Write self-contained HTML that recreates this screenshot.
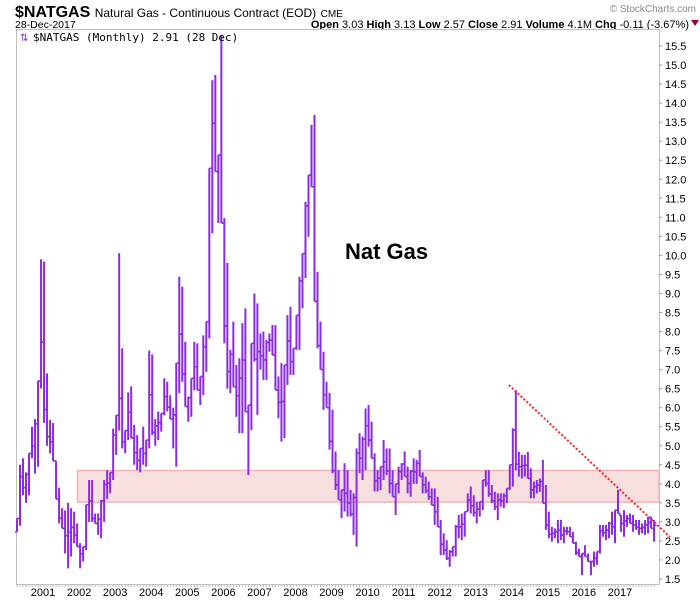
<!DOCTYPE html>
<html><head><meta charset="utf-8"><style>
body{margin:0;background:#fff;width:700px;height:600px;overflow:hidden;font-family:"Liberation Sans",sans-serif}
svg{display:block}
</style></head><body>
<svg id="chart" width="700" height="600">
<text x="15" y="17" font-size="16" font-weight="bold" fill="#000">$NATGAS <tspan font-weight="normal" font-size="12">Natural Gas - Continuous Contract (EOD)</tspan> <tspan font-weight="normal" font-size="10">CME</tspan></text>
<text x="15" y="28" font-size="10.5" fill="#000">28-Dec-2017</text>
<text x="689" y="28" font-size="11" text-anchor="end" fill="#000"><tspan font-weight="bold">Open</tspan> 3.03 <tspan font-weight="bold">High</tspan> 3.13 <tspan font-weight="bold">Low</tspan> 2.57 <tspan font-weight="bold">Close</tspan> 2.91 <tspan font-weight="bold">Volume</tspan> 4.1M <tspan font-weight="bold">Chg</tspan> -0.11 (-3.67%)</text>
<polygon points="691,20 699,20 695,26" fill="#990033"/>
<text x="696" y="12" font-size="10" text-anchor="end" fill="#888">© StockCharts.com</text>
<rect x="16.5" y="29.5" width="643" height="555" fill="#fff" stroke="#c0c0c0"/>
<g id="band"></g>
<g id="bars"></g>
<g id="axes"></g>
<text x="33" y="41" font-size="11" font-family="'DejaVu Sans Mono','Liberation Mono',monospace" fill="#000">$NATGAS (Monthly) 2.91 (28 Dec)</text>
<text x="20" y="41" font-size="10" fill="#8a2be2">⇅</text>
<text x="345" y="259" font-size="22" font-weight="bold" fill="#000">Nat Gas</text>
<line x1="509" y1="385" x2="670" y2="537" stroke="#f22" stroke-width="2" stroke-dasharray="2,2"/>
</svg>
<script>
const highs=[3.09,4.5,4.67,4.3,4.8,5.5,5.7,6.7,9.9,9.84,6.9,5.68,5.6,4.6,3.9,3.36,3.3,3.5,3.36,3.27,2.96,2.44,2.35,3.45,4.1,4.1,3.22,3.22,3.58,4.1,4.36,4.3,5.45,5.8,10.06,7.56,5.4,6.4,6.56,5.55,5.28,4.93,5.5,5.15,7.5,7.4,5.7,5.9,5.85,6.77,6.68,6.33,6.0,7.17,9.44,9.18,7.73,6.29,6.77,7.73,7.69,6.82,7.9,8.26,12.29,14.6,14.74,12.64,15.8,10.98,9.8,7.52,8.26,7.12,7.3,8.22,8.61,6.07,7.69,9.0,8.74,7.95,8.0,7.78,7.95,8.17,8.17,6.82,7.17,7.12,8.43,8.65,7.56,8.43,9.44,10.05,11.41,12.11,13.43,13.69,9.57,8.26,7.47,6.68,6.39,5.95,4.85,4.36,3.84,4.54,4.36,3.84,3.75,4.93,5.33,5.24,5.98,6.07,5.63,4.8,4.36,4.45,5.15,4.93,4.93,4.36,4.0,4.45,4.54,4.85,4.45,4.36,4.67,4.63,4.89,4.3,4.19,4.06,3.88,3.88,3.66,3.05,2.7,2.52,2.26,2.35,2.92,3.18,3.22,3.27,3.75,3.93,3.7,3.53,3.53,4.1,4.36,4.36,3.97,3.79,3.75,3.75,3.75,3.88,4.5,5.46,6.46,4.84,4.76,4.76,4.84,4.41,4.06,4.1,4.14,4.63,3.97,3.27,2.87,2.83,3.05,3.05,2.87,2.87,2.87,2.74,2.48,2.3,2.17,2.39,2.17,1.96,2.22,2.22,2.92,2.92,2.92,3.0,3.27,3.31,3.84,3.18,3.31,3.18,3.22,3.18,3.05,3.05,2.96,3.05,3.14,3.14,3.05];
const lows=[2.74,2.9,3.7,3.5,3.7,4.67,4.27,4.45,6.5,5.6,5.0,4.8,4.6,3.6,2.96,2.83,2.17,1.78,2.09,2.44,2.35,1.78,1.96,2.26,3.0,3.0,2.96,2.66,2.57,3.0,3.6,3.75,4.1,4.76,5.4,4.93,4.8,5.15,5.2,4.5,4.36,4.3,4.5,4.45,4.93,5.28,5.0,5.15,5.37,5.8,5.9,5.7,4.93,4.45,6.38,6.68,6.03,5.63,5.76,6.46,6.46,6.07,6.33,6.94,7.82,10.58,12.2,10.85,10.85,7.69,6.5,6.38,6.55,5.76,5.33,5.33,5.89,4.23,5.41,7.21,5.81,7.0,6.73,6.73,7.47,7.38,6.46,5.72,5.11,5.2,6.6,6.86,6.86,7.52,7.52,8.61,9.4,10.49,11.8,8.79,7.56,7.0,5.94,6.0,4.9,4.28,3.84,3.58,3.1,3.27,3.14,3.14,2.66,2.35,4.28,4.1,4.36,4.98,4.67,3.8,3.8,3.84,4.1,4.23,3.75,3.66,3.18,3.75,4.1,4.19,3.75,3.66,4.0,4.0,4.19,3.75,3.75,3.58,3.44,2.92,2.87,2.13,2.13,2.0,1.82,2.09,2.09,2.57,2.52,2.61,3.27,3.22,3.14,2.96,3.14,3.31,3.93,3.66,3.49,3.31,3.05,3.4,3.36,3.49,3.84,3.93,4.36,4.19,4.14,4.19,4.14,3.62,3.62,3.75,3.79,3.49,2.79,2.57,2.48,2.57,2.44,2.52,2.44,2.66,2.61,2.44,2.13,2.09,1.6,2.09,1.96,1.6,1.82,1.87,2.17,2.61,2.52,2.57,2.66,2.44,3.22,2.74,2.61,2.87,2.96,2.74,2.79,2.66,2.7,2.66,2.7,2.83,2.48];
const yTicks=[1.5,2.0,2.5,3.0,3.5,4.0,4.5,5.0,5.5,6.0,6.5,7.0,7.5,8.0,8.5,9.0,9.5,10.0,10.5,11.0,11.5,12.0,12.5,13.0,13.5,14.0,14.5,15.0,15.5];
const years=[2001,2002,2003,2004,2005,2006,2007,2008,2009,2010,2011,2012,2013,2014,2015,2016,2017];
const bandRange=[3.52,4.35];
const NS="http://www.w3.org/2000/svg";
const yv=v=>579-(v-1.5)*38.07;
const xi=i=>17+i*3.005;
const firstYear=2000, firstMonth=3; // Apr 2000
const xYear=y=>xi((y-firstYear)*12-firstMonth);
function mk(tag,attrs,parent){const e=document.createElementNS(NS,tag);for(const k in attrs)e.setAttribute(k,attrs[k]);parent.appendChild(e);return e;}
const band=document.getElementById('band');
const br=mk('rect',{x:77.5,y:yv(bandRange[1]),width:659-77.5,height:yv(bandRange[0])-yv(bandRange[1]),fill:'#f7dfe0',stroke:'#f3b3b6','stroke-width':1.5},band);


const bars=document.getElementById('bars');
const closes=highs.map((h,i)=>{const nh=highs[i+1],nl=lows[i+1];const t=(nh!==undefined)?(nh+nl)/2:2.91;return Math.min(h,Math.max(lows[i],t));});
closes[closes.length-1]=2.91;
highs.forEach((h,i)=>{
  const g=mk('g',{},bars);
  
  
  const x=xi(i);
  mk('line',{x1:x,x2:x,y1:yv(h),y2:yv(lows[i]),stroke:'#8a2be2','stroke-width':2},g);
  const o=i>0?Math.min(h,Math.max(lows[i],closes[i-1])):lows[i];
  mk('line',{x1:x-2,x2:x,y1:yv(o),y2:yv(o),stroke:'#8a2be2','stroke-width':1.5},g);
  mk('line',{x1:x,x2:x+2.5,y1:yv(closes[i]),y2:yv(closes[i]),stroke:'#8a2be2','stroke-width':1.5},g);
});
const axes=document.getElementById('axes');
yTicks.forEach(v=>{
  const y=yv(v);
  const tk=mk('line',{x1:659,x2:662,y1:y,y2:y,stroke:'#999'},axes);
  
  
  const t=mk('text',{x:665,y:y+4,'font-size':11,fill:'#000'},axes);
  t.textContent=v.toFixed(1);
  
  
});
for(let i=0;i<highs.length;i++){
  const x=xi(i);
  const m=mk('line',{x1:x,x2:x,y1:585,y2:587,stroke:'#bbb'},axes);
  
  
}
years.forEach(yr=>{
  const t=mk('text',{x:xYear(yr)-1,y:596,'font-size':11,'text-anchor':'middle',fill:'#000'},axes);
  t.textContent=yr;
  
  
});
</script>
</body></html>
